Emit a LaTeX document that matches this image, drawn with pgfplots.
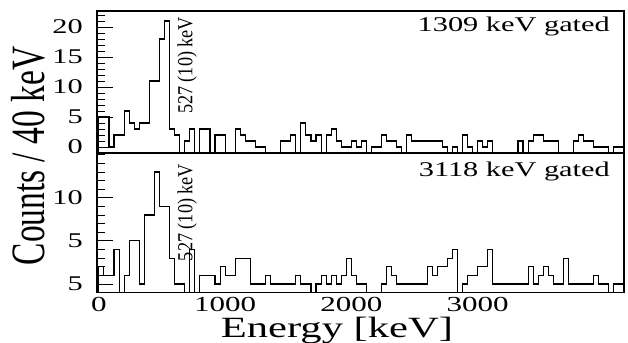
\documentclass[border=0pt]{standalone}
\usepackage{fontspec}
\setmainfont{Liberation Serif}
\newfontfamily\wideserif[FakeStretch=1.45]{Liberation Serif}
\newfontfamily\condserif[FakeStretch=0.70]{Liberation Serif}
\newfontfamily\peakserif[FakeStretch=0.85]{Liberation Serif}
\usepackage{pgfplots}
\usepackage{pgfplotstable}
\pgfplotsset{compat=1.18}

\pgfplotstableread{
x y
0 -1
0 5
40 5
80 0
120 2
160 2
200 6
240 4
280 3
320 4
360 4
400 11
440 11
480 18
520 21
560 3
600 2
640 -1
680 1
720 3
760 -1
800 3
840 3
880 -1
920 2
960 2
1000 -1
1040 -1
1080 3
1120 2
1160 1
1200 1
1240 0
1280 0
1320 -1
1360 -1
1400 -1
1440 1
1480 1
1520 2
1560 -1
1600 4
1640 2
1680 1
1720 2
1760 -1
1800 2
1840 3
1880 1
1920 0
1960 0
2000 1
2040 0
2080 1
2120 -1
2160 0
2200 0
2240 2
2280 1
2320 1
2360 0
2400 -1
2440 2
2480 1
2520 1
2560 1
2600 1
2640 1
2680 1
2720 0
2760 -1
2800 0
2840 -1
2880 2
2920 0
2960 -1
3000 1
3040 0
3080 1
3120 -1
3160 -1
3200 -1
3240 -1
3280 -1
3320 1
3360 -1
3400 1
3440 2
3480 2
3520 1
3560 1
3600 1
3640 -1
3680 -1
3720 -1
3760 1
3800 2
3840 1
3880 1
3920 0
3960 0
4000 0
4040 -1
4080 0
4120 0
4160 0
}\tophist

\pgfplotstableread{
x y
0 -1
0 2
40 1
80 1
120 4
160 -1
200 1
240 5
280 5
320 0
360 8
400 8
440 13
480 9
520 9
560 3
600 0
640 0
680 -1
720 4
760 -1
800 1
840 1
880 1
920 0
960 2
1000 1
1040 1
1080 3
1120 3
1160 3
1200 0
1240 0
1280 0
1320 1
1360 0
1400 0
1440 0
1480 0
1520 0
1560 1
1600 0
1640 0
1680 -1
1720 0
1760 1
1800 0
1840 1
1880 0
1920 1
1960 3
2000 1
2040 0
2080 0
2120 -1
2160 -1
2200 -1
2240 0
2280 2
2320 1
2360 0
2400 0
2440 0
2480 0
2520 0
2560 0
2600 2
2640 1
2680 2
2720 2
2760 3
2800 4
2840 -1
2880 0
2920 1
2960 1
3000 2
3040 2
3080 4
3120 0
3160 0
3200 0
3240 0
3280 0
3320 0
3360 0
3400 2
3440 0
3480 1
3520 2
3560 1
3600 0
3640 0
3680 3
3720 0
3760 0
3800 0
3840 0
3880 0
3920 1
3960 0
4000 0
4040 -1
4080 0
4120 0
4160 0
}\bothist

\pgfplotsset{
  panel/.style={
    anchor=south west, width=527bp, scale only axis,
    xmin=-15, xmax=4160, clip=false,
    axis line style={line width=1.3bp, black},
    tick align=inside, ytick pos=left,
    major tick length=16bp, minor tick length=8bp,
    tick style={line width=0.9bp, black},
    xtick style={draw=none},
    /pgf/number format/assume math mode=true,
    yticklabel style={font=\wideserif\fontsize{21}{21}\selectfont, anchor=east, inner sep=0pt, xshift=-14bp},
    xticklabel style={font=\wideserif\fontsize{21.5}{21.5}\selectfont, anchor=north, inner sep=0pt, yshift=-4bp},
  },
  hist/.style={const plot, black, line width=1.1bp, mark=none},
}

\begin{document}
\begin{tikzpicture}
\path[use as bounding box] (0bp,0bp) rectangle (628bp,343bp);

\begin{axis}[panel, at={(97bp,190bp)}, height=142bp,
  ymin=-1, ymax=22.67,
  xtick=\empty,
  ytick={0,5,10,15,20}, yticklabels={0,5,10,15,20},
  minor ytick={1,2,3,4,6,7,8,9,11,12,13,14,16,17,18,19,21,22}]
\addplot[hist] table {\tophist};
\node[font=\wideserif\fontsize{21}{21}\selectfont, anchor=base east, inner sep=0pt]
  at (rel axis cs:0.9734,0.854) {1309 keV gated};
\node[font=\peakserif\fontsize{21.5}{21.5}\selectfont, rotate=90, anchor=base, inner sep=0pt]
  at (axis cs:740,13.6) {527 (10) keV};
\node[font=\condserif\fontsize{48}{48}\selectfont, rotate=90, anchor=base, inner sep=0pt]
  at (rel axis cs:-0.0987,-0.021) {Counts / 40 keV};
\end{axis}

\begin{axis}[panel, at={(97bp,50.4bp)}, height=139.6bp,
  ymin=-1, ymax=15.2,
  xtick={0,1000,2000,3000}, xticklabels={0,1000,2000,3000},
  ytick={0,5,10}, yticklabels={5,5,10},
  minor ytick={1,2,3,4,6,7,8,9,11,12,13,14,15}]
\addplot[hist] table {\bothist};
\node[font=\wideserif\fontsize{21}{21}\selectfont, anchor=base east, inner sep=0pt]
  at (rel axis cs:0.9734,0.835) {3118 keV gated};
\node[font=\peakserif\fontsize{21.5}{21.5}\selectfont, rotate=90, anchor=base, inner sep=0pt]
  at (axis cs:740,8.3) {527 (10) keV};
\node[font=\wideserif\fontsize{29.5}{29.5}\selectfont, anchor=base, inner sep=0pt]
  at (rel axis cs:0.4553,0) [yshift=-44.4bp] {Energy [keV]};
\end{axis}
\end{tikzpicture}
\end{document}
